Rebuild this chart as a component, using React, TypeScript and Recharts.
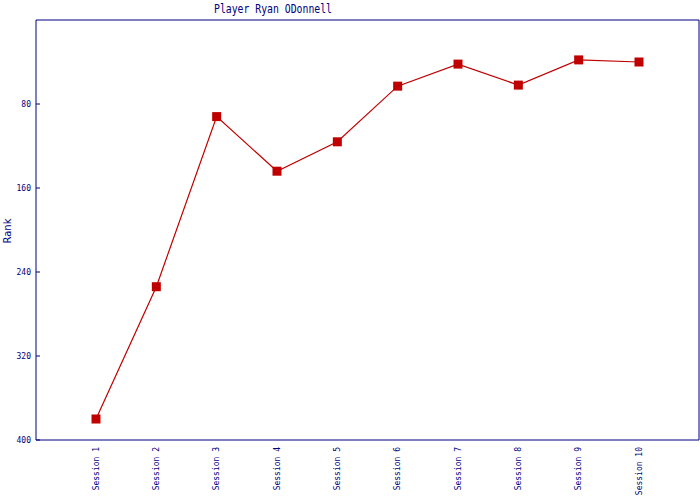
import React from 'react';
import { LineChart, Line, XAxis, YAxis } from 'recharts';

const sessions = ['Session 1', 'Session 2', 'Session 3', 'Session 4', 'Session 5', 'Session 6', 'Session 7', 'Session 8', 'Session 9', 'Session 10'];
const ranks = [380, 254, 92, 144, 116, 63, 42, 62, 38, 40];
const yTicks = [80, 160, 240, 320, 400];

const data = sessions.map((s, i) => ({ session: s, rank: ranks[i] }));

const NAVY = '#000080';
const RED = '#c00000';
const MONO = '"DejaVu Sans Mono", monospace';

const XTick = (props: any) => {
  const { x, y, payload } = props;
  return (
    <g transform={`translate(${x},${y})`}>
      <text transform="rotate(-90)" textAnchor="end" dy="0.32em" fontSize={8} fontFamily={MONO} fill={NAVY}>
        {payload.value}
      </text>
    </g>
  );
};

const YTick = (props: any) => {
  const { x, y, payload } = props;
  return (
    <g>
      <line x1={x + 5} x2={x + 9} y1={y} y2={y} stroke={NAVY} strokeWidth={1} />
      <text x={x} y={y} textAnchor="end" dy="0.32em" fontSize={8} fontFamily={MONO} fill={NAVY}>
        {payload.value}
      </text>
    </g>
  );
};

const SquareDot = (props: any) => {
  const { cx, cy, index } = props;
  if (cx == null || cy == null) return null;
  return <rect key={`d${index}`} x={cx - 4.5} y={cy - 4.5} width={9} height={9} fill={RED} />;
};

export default function App() {
  return (
    <div style={{ position: 'absolute', left: 0, top: 0, width: 700, height: 500, background: '#fff' }}>
      <LineChart width={700} height={500} data={data} margin={{ top: 19, right: 0, bottom: 0, left: 0 }}>
        <text x={214} y={13} textAnchor="start" fontSize={12} textLength={118} lengthAdjust="spacingAndGlyphs" fontFamily={MONO} fill={NAVY}>
          Player Ryan ODonnell
        </text>
        <text x={11} y={231} textAnchor="middle" transform="rotate(-90, 11, 231)" fontSize={10} fontFamily='"DejaVu Sans", sans-serif' fill={NAVY}>
          Rank
        </text>
        <XAxis
          dataKey="session"
          xAxisId="bottom"
          padding={{ left: 60, right: 60 }}
          axisLine={{ stroke: NAVY, strokeWidth: 1 }}
          tickLine={false}
          tickSize={0}
          tickMargin={7}
          tick={<XTick />}
          interval={0}
          height={60}
        />
        <XAxis
          dataKey="session"
          xAxisId="top"
          orientation="top"
          padding={{ left: 60, right: 60 }}
          axisLine={{ stroke: NAVY, strokeWidth: 1 }}
          tick={false}
          tickLine={false}
          height={1}
        />
        <YAxis
          yAxisId="left"
          reversed
          domain={[0, 400]}
          ticks={yTicks}
          type="number"
          width={36}
          axisLine={{ stroke: NAVY, strokeWidth: 1 }}
          tickLine={false}
          tickSize={0}
          tickMargin={5}
          tick={<YTick />}
          interval={0}
        />
        <YAxis
          yAxisId="right"
          orientation="right"
          reversed
          domain={[0, 400]}
          type="number"
          width={1}
          axisLine={{ stroke: NAVY, strokeWidth: 1 }}
          tick={false}
          tickLine={false}
        />
        <Line
          xAxisId="bottom"
          yAxisId="left"
          type="linear"
          dataKey="rank"
          stroke={RED}
          strokeWidth={1.2}
          dot={<SquareDot />}
          activeDot={false}
          isAnimationActive={false}
        />
      </LineChart>
    </div>
  );
}
